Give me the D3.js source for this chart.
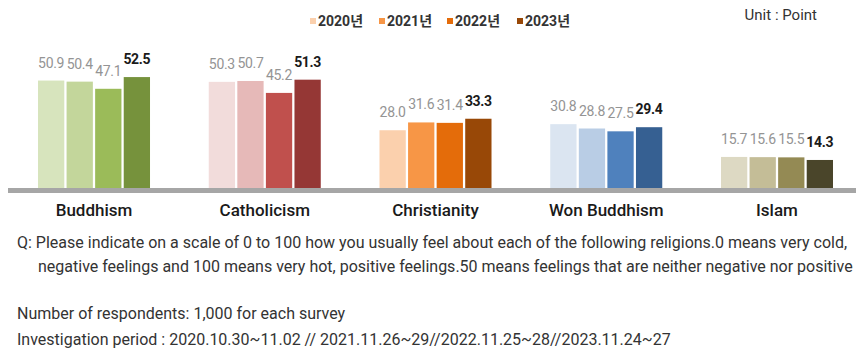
<!DOCTYPE html>
<html>
<head>
<meta charset="utf-8">
<script src="https://cdn.jsdelivr.net/npm/d3@7"></script>
<style>
  body { margin: 0; background: #fff; }
  svg text { font-family: Roboto, "Liberation Sans", "Noto Sans CJK KR", sans-serif; }
</style>
</head>
<body>
<div id="chart"></div>
<script>
// data
const categories = ["Buddhism", "Catholicism", "Christianity", "Won Buddhism", "Islam"];
const years = ["2020년", "2021년", "2022년", "2023년"];
const values2020 = [50.9, 50.3, 28.0, 30.8, 15.7];
const values2021 = [50.4, 50.7, 31.6, 28.8, 15.6];
const values2022 = [47.1, 45.2, 31.4, 27.5, 15.5];
const values2023 = [52.5, 51.3, 33.3, 29.4, 14.3];
const series = [values2020, values2021, values2022, values2023];

// each religion has its own four-shade palette
const palettes = [
  ["#d7e4bd", "#c3d69b", "#9bbb59", "#76923c"],
  ["#f2dcdb", "#e6b9b8", "#c0504d", "#953735"],
  ["#fbd0ad", "#f79646", "#e46c0a", "#984807"],
  ["#dbe5f1", "#b9cde5", "#4f81bd", "#366092"],
  ["#ddd9c3", "#c4bd97", "#948a54", "#4a452a"]
];
const legendColors = palettes[2];

const notes = [
  "Q: Please indicate on a scale of 0 to 100 how you usually feel about each of the following religions.0 means very cold,",
  "negative feelings and 100 means very hot, positive feelings.50 means feelings that are neither negative nor positive"
];
const footer = [
  "Number of respondents: 1,000 for each survey",
  "Investigation period : 2020.10.30~11.02 // 2021.11.26~29//2022.11.25~28//2023.11.24~27"
];

const width = 856, height = 351;

const svg = d3.select("#chart")
    .append("svg")
    .attr("width", width)
    .attr("height", height);

const x0 = d3.scaleBand()
    .domain(categories)
    .range([38, 833])
    .paddingInner(0.344)
    .paddingOuter(0);

const x1 = d3.scaleBand()
    .domain(d3.range(years.length))
    .range([0, x0.bandwidth()])
    .paddingInner(0.08);

const y = d3.scaleLinear()
    .domain([0, 60])
    .range([191, 191 - 60 * 2.17]);

const rows = [];
categories.forEach((c, ci) => {
  series.forEach((s, si) => {
    rows.push({ cat: c, ci: ci, si: si, value: s[ci] });
  });
});

// bars
svg.append("g").selectAll("rect")
    .data(rows)
    .enter()
    .append("rect")
    .attr("x", d => x0(d.cat) + x1(d.si))
    .attr("y", d => y(d.value))
    .attr("width", x1.bandwidth())
    .attr("height", d => y(0) - y(d.value))
    .attr("fill", d => palettes[d.ci][d.si]);

// baseline
svg.append("rect")
    .attr("x", 8)
    .attr("y", y(0) - 3)
    .attr("width", width - 8)
    .attr("height", 5)
    .attr("fill", "#a6a6a6");

// value labels
svg.append("g").selectAll("text")
    .data(rows)
    .enter()
    .append("text")
    .attr("x", d => x0(d.cat) + x1(d.si) + x1.bandwidth() / 2)
    .attr("y", d => y(d.value) - 13)
    .attr("text-anchor", "middle")
    .attr("font-size", "14px")
    .attr("letter-spacing", "-0.3px")
    .attr("font-weight", d => d.si === 3 ? "bold" : "normal")
    .attr("fill", d => d.si === 3 ? "#1a1a1a" : "#949494")
    .text(d => d.value.toFixed(1));

// category axis
const xaxisG = svg.append("g")
    .attr("transform", "translate(0," + (y(0) + 3) + ")")
    .call(d3.axisBottom(x0).tickSize(0).tickPadding(10));
xaxisG.select(".domain").remove();
xaxisG.selectAll("text")
    .attr("font-size", "17px")
    .attr("font-weight", 500)
    .attr("fill", "#1a1a1a")
    .style("font-family", "Roboto, 'Liberation Sans', sans-serif");

// legend
const legendX = [310, 379, 447, 517];
const legend = svg.append("g").selectAll("g")
    .data(years)
    .enter()
    .append("g")
    .attr("transform", (d, i) => "translate(" + legendX[i] + ",0)");
legend.append("rect")
    .attr("x", 0).attr("y", 18)
    .attr("width", 6).attr("height", 6)
    .attr("fill", (d, i) => legendColors[i]);
legend.append("text")
    .attr("x", 8).attr("y", 26)
    .attr("font-size", "14px")
    .attr("font-weight", "bold")
    .attr("fill", "#333")
    .text(d => d);

svg.append("text")
    .attr("x", 817).attr("y", 20)
    .attr("text-anchor", "end")
    .attr("font-size", "15px")
    .attr("fill", "#333")
    .text("Unit : Point");

// notes
const noteY = [248, 272];
svg.append("g").selectAll("text")
    .data(notes)
    .enter()
    .append("text")
    .attr("x", (d, i) => i === 0 ? 17 : 38)
    .attr("y", (d, i) => noteY[i])
    .attr("font-size", "16px")
    .attr("fill", "#333")
    .text(d => d);

const footerY = [319, 345];
svg.append("g").selectAll("text")
    .data(footer)
    .enter()
    .append("text")
    .attr("x", 17)
    .attr("y", (d, i) => footerY[i])
    .attr("font-size", "16px")
    .attr("fill", "#333")
    .text(d => d);
</script>
</body>
</html>
